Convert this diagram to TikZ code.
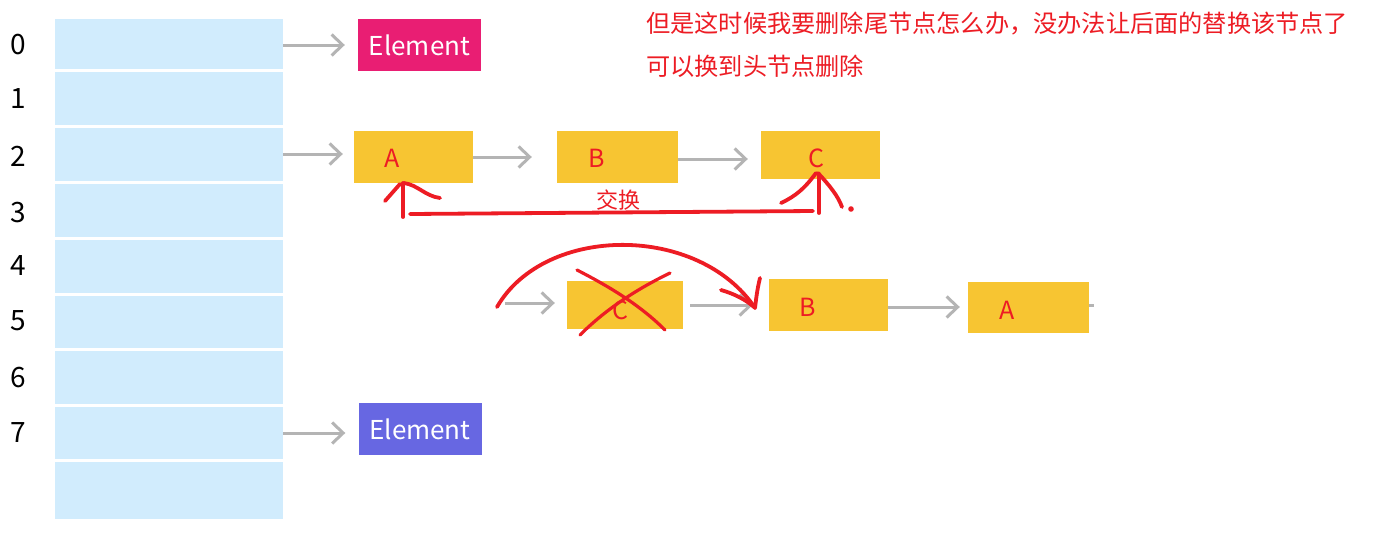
\documentclass[tikz,border=0pt]{standalone}
\usepackage{fontspec}
\setmainfont{Noto Sans CJK SC}
\usetikzlibrary{arrows.meta}
\definecolor{cellblue}{HTML}{D1ECFD}
\definecolor{nodeyellow}{HTML}{F7C532}
\definecolor{elpink}{HTML}{E91E73}
\definecolor{elpurple}{HTML}{6767E2}
\definecolor{arrowgray}{HTML}{B4B4B4}
\definecolor{penred}{HTML}{ED1C24}
\tikzset{
  cell/.style={fill=cellblue, minimum width=228pt, inner sep=0pt, draw=none},
  idx/.style={font=\fontsize{28}{28}\selectfont, text=black, inner sep=0pt},
  elem/.style={minimum width=123pt, minimum height=52pt, inner sep=0pt, text=white, font=\fontsize{26}{26}\selectfont},
  lnode/.style={fill=nodeyellow, inner sep=0pt},
  letter/.style={text=penred, font=\fontsize{25}{25}\selectfont, inner sep=0pt},
  garrow/.style={draw=arrowgray, line width=3pt, -{Straight Barb[length=11pt,width=21pt,line width=3pt]}},
  pen/.style={draw=penred, line width=3.8pt, line cap=round, line join=round},
  note/.style={text=penred, font=\fontsize{24.2}{24.2}\selectfont, inner sep=0pt, anchor=west}
}
\begin{document}
\begin{tikzpicture}[x=1pt,y=-1pt]
\useasboundingbox[fill=white] (0,0) rectangle (1382,539);
% bucket cells
\node[cell, minimum height=50pt] (c0) at (169,44) {};
\node[cell, minimum height=53pt] (c1) at (169,98.5) {};
\node[cell, minimum height=53pt] (c2) at (169,154.5) {};
\node[cell, minimum height=53pt] (c3) at (169,210.5) {};
\node[cell, minimum height=53pt] (c4) at (169,266.5) {};
\node[cell, minimum height=52pt] (c5) at (169,322) {};
\node[cell, minimum height=53pt] (c6) at (169,377.5) {};
\node[cell, minimum height=52pt] (c7) at (169,433) {};
\node[cell, minimum height=57pt] (c8) at (169,490.5) {};
% indices
\node[idx] (i0) at (18,45) {0};
\node[idx] (i1) at (18,99) {1};
\node[idx] (i2) at (18,156) {2};
\node[idx] (i3) at (18,213) {3};
\node[idx] (i4) at (18,266) {4};
\node[idx] (i5) at (18,321) {5};
\node[idx] (i6) at (18,378) {6};
\node[idx] (i7) at (18,433) {7};
% elements
\node[elem, fill=elpink] (e0) at (419.5,45) {Element};
\node[elem, fill=elpurple] (e7) at (420,429) {Element};
% row 2 list
\node[lnode, minimum width=119pt, minimum height=52pt] (bA) at (413.5,157) {};
\node[lnode, minimum width=121pt, minimum height=52pt] (bB) at (617.5,157) {};
\node[lnode, minimum width=119pt, minimum height=48pt] (bC) at (820.5,155) {};
\node[letter] (lA) at (392,158) {A};
\node[letter] (lB) at (597,158) {B};
\node[letter] (lC) at (816,158) {C};
% lower list
\node[lnode, minimum width=116pt, minimum height=48pt] (dC) at (625,305) {};
\node[lnode, minimum width=119pt, minimum height=52pt] (dB) at (828.5,305) {};
\node[lnode, minimum width=121pt, minimum height=51pt] (dA) at (1028.5,307.5) {};
\node[letter] (mC) at (620,310) {C};
\node[letter] (mB) at (808,307) {B};
\node[letter] (mA) at (1007,310) {A};
% gray connectors
\draw[garrow, shorten >=13pt] (c0.east |- e0.west) -- (e0.west);
\draw[garrow, shorten >=11pt] ([yshift=0.5pt]c2.east) -- ([yshift=0.5pt]c2.east -| bA.west);
\draw[garrow, shorten >=13pt] (c7.east) -- (c7.east -| e7.west);
\draw[garrow, shorten >=25pt] (bA.east) -- (bA.east -| bB.west);
\draw[garrow, shorten >=13pt] ([yshift=-2pt]bB.east) -- ([yshift=-2pt]bB.east -| bC.west);
\coordinate (s0) at (505,303);
\draw[garrow, shorten >=12pt] (s0) -- (s0 -| dC.west);
\draw[garrow, shorten <=7pt, shorten >=16pt] (dC.east) -- (dC.east -| dB.west);
\draw[garrow, shorten >=8pt] ([yshift=-2pt]dB.east) -- ([yshift=-2pt]dB.east -| dA.west);
\coordinate (s1) at (1094,305);
\draw[draw=arrowgray, line width=3pt] (dA.east |- s1) -- (s1);
% red annotations, upper swap
\coordinate (ua) at (403,183);
\coordinate (uc) at (819,174);
\draw[pen] (403,217) -- (ua);
\draw[pen] (385,201) -- (400,184);
\draw[pen] (404,183) .. controls (418,185) and (425,196) .. (440,198);
\draw[pen] (410,214) -- (813,211);
\draw[pen] (819,213) -- (uc);
\draw[pen] (781,203) .. controls (796,196) and (805,188) .. (816,173);
\draw[pen] (818,173) .. controls (830,186) and (838,196) .. (842,207);
\fill[penred] (851,209) circle (2.8pt);
\node[text=penred, font=\fontsize{22}{22}\selectfont, inner sep=0pt] (swap) at (618,200) {交换};
% red annotations, lower
\draw[pen] (497,307) .. controls (545,224) and (699,224) .. (755,308);
\draw[pen] (721,290) .. controls (735,294) and (746,300) .. (754,307);
\draw[pen] (760,278) .. controls (757,290) and (756,300) .. (755,308);
\draw[pen, line width=3.2pt] (577,270) .. controls (610,287) and (640,305) .. (665,330);
\draw[pen, line width=3.2pt] (670,273) .. controls (635,290) and (605,310) .. (580,335);
% note text
\node[note] (n1) at (646,24) {但是这时候我要删除尾节点怎么办，没办法让后面的替换该节点了};
\node[note] (n2) at (646,66) {可以换到头节点删除};
\end{tikzpicture}
\end{document}
